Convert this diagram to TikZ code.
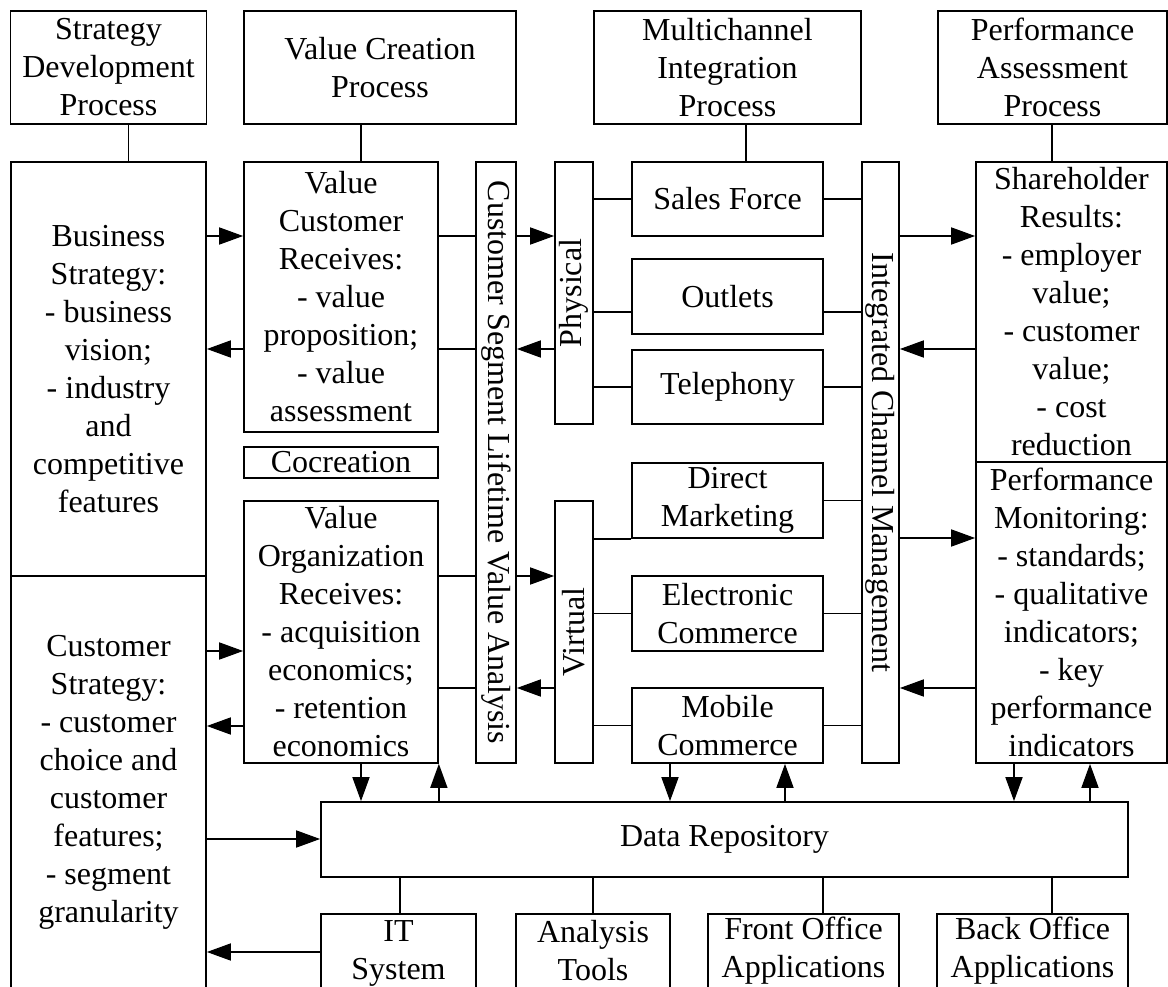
\documentclass[tikz,border=0pt]{standalone}
\usepackage{fontspec}
\setmainfont{Liberation Serif}
\usepackage{graphicx}
\usetikzlibrary{arrows.meta}
\begin{document}
\begin{tikzpicture}[x=1pt,y=-1pt,
  box/.style={draw, line width=1.7pt, inner sep=0pt, align=center, font=\fontsize{32}{38}\selectfont},
  ln/.style={line width=1.7pt},
  arr/.style={line width=1.7pt, -{Triangle[length=24pt,width=17pt]}}]
\useasboundingbox (0,0) rectangle (1168,987);
\clip (0,0) rectangle (1168,987);
% top row
\node[box, minimum width=196pt, minimum height=113pt] (sdp) at (108.5,67.5) {Strategy\\Development\\Process};
\node[box, minimum width=272pt, minimum height=113pt] (vcp) at (380,67.5) {Value Creation\\Process};
\node[box, minimum width=267pt, minimum height=113pt] (mip) at (727.5,67.5) {Multichannel\\Integration\\Process};
\node[box, minimum width=229pt, minimum height=113pt] (pap) at (1052.5,67.5) {Performance\\Assessment\\Process};
% left column
\node[box, minimum width=195pt, minimum height=414pt] (bs) at (108.5,369) {Business\\Strategy:\\- business\\vision;\\- industry\\and\\competitive\\features};
\node[box, minimum width=195pt, minimum height=412pt] (cs) at (108.5,782) {Customer\\Strategy:\\- customer\\choice and\\customer\\features;\\- segment\\granularity};
% value column
\node[box, minimum width=194pt, minimum height=270pt] (vcr) at (341,297) {Value\\Customer\\Receives:\\- value\\proposition;\\- value\\assessment};
\node[box, minimum width=194pt, minimum height=31pt] (cocr) at (341,462.5) {Cocreation};
\node[box, minimum width=194pt, minimum height=262pt] (vor) at (341,632) {Value\\Organization\\Receives:\\- acquisition\\economics;\\- retention\\economics};
% strips
\node[box, minimum width=40pt, minimum height=601pt] (cslv) at (496,462.5) {\rotatebox{-90}{Customer Segment Lifetime Value Analysis}};
\node[box, minimum width=38pt, minimum height=262pt] (phys) at (574,293) {\rotatebox{90}{Physical}};
\node[box, minimum width=38pt, minimum height=262pt] (virt) at (574,632) {\rotatebox{90}{Virtual}};
\node[box, minimum width=37pt, minimum height=601pt] (icm) at (880.5,462.5) {\rotatebox{-90}{Integrated Channel Management}};
% channels
\node[box, minimum width=191pt, minimum height=74pt] (sf) at (727.5,199) {Sales Force};
\node[box, minimum width=191pt, minimum height=75pt] (out) at (727.5,296.5) {Outlets};
\node[box, minimum width=191pt, minimum height=74pt] (tel) at (727.5,387) {Telephony};
\node[box, minimum width=191pt, minimum height=75pt] (dm) at (727.5,500.5) {Direct\\Marketing};
\node[box, minimum width=191pt, minimum height=75pt] (ec) at (727.5,613.5) {Electronic\\Commerce};
\node[box, minimum width=191pt, minimum height=75pt] (mc) at (727.5,725.5) {Mobile\\Commerce};
% performance column
\node[box, minimum width=191pt, minimum height=300pt] (sr) at (1071.5,312) {Shareholder\\Results:\\- employer\\value;\\- customer\\value;\\- cost\\reduction};
\node[box, minimum width=191pt, minimum height=301pt] (pm) at (1071.5,612.5) {Performance\\Monitoring:\\- standards;\\- qualitative\\indicators;\\- key\\performance\\indicators};
% bottom
\node[box, minimum width=807pt, minimum height=75pt] (dr) at (724.5,839.5) {Data Repository};
\node[box, minimum width=155pt, minimum height=74pt] (it) at (398.5,951) {\strut IT\\System};
\node[box, minimum width=154pt, minimum height=74pt] (at) at (593,951) {Analysis\\Tools};
\node[box, minimum width=191pt, minimum height=74pt] (fo) at (803.5,951) {Front Office\\Applications};
\node[box, minimum width=191pt, minimum height=74pt] (bo) at (1032.5,951) {Back Office\\Applications};
% process links
\draw[ln] (sdp.south -| 128.5,0) -- (bs.north -| 128.5,0);
\draw[ln] (vcp.south -| 361,0) -- (vcr.north -| 361,0);
\draw[ln] (mip.south -| 746,0) -- (sf.north -| 746,0);
\draw[ln] (pap.south -| 1052,0) -- (sr.north -| 1052,0);
% left <-> value
\draw[arr] (bs.east |- 0,236) -- (vcr.west |- 0,236);
\draw[arr] (vcr.west |- 0,349) -- (bs.east |- 0,349);
\draw[arr] (cs.east |- 0,651) -- (vor.west |- 0,651);
\draw[arr] (vor.west |- 0,726) -- (cs.east |- 0,726);
\draw[arr] (cs.east |- 0,839) -- (dr.west |- 0,839);
\draw[arr] (it.west |- 0,952) -- (cs.east |- 0,952);
% value <-> strip
\draw[ln] (vcr.east |- 0,236) -- (cslv.west |- 0,236);
\draw[ln] (vcr.east |- 0,349) -- (cslv.west |- 0,349);
\draw[ln] (vor.east |- 0,576) -- (cslv.west |- 0,576);
\draw[ln] (vor.east |- 0,688) -- (cslv.west |- 0,688);
\draw[arr] (cslv.east |- 0,236) -- (phys.west |- 0,236);
\draw[arr] (phys.west |- 0,349) -- (cslv.east |- 0,349);
\draw[arr] (cslv.east |- 0,576) -- (virt.west |- 0,576);
\draw[arr] (virt.west |- 0,688) -- (cslv.east |- 0,688);
% channels
\draw[ln] (phys.east |- 0,199) -- (sf.west |- 0,199);
\draw[ln] (sf.east |- 0,199) -- (icm.west |- 0,199);
\draw[ln] (phys.east |- 0,312) -- (out.west |- 0,312);
\draw[ln] (out.east |- 0,312) -- (icm.west |- 0,312);
\draw[ln] (phys.east |- tel.west) -- (tel.west);
\draw[ln] (tel.east) -- (icm.west |- tel.east);
\draw[ln] (virt.east |- dm.south west) -- (dm.south west);
\draw[ln] (dm.east) -- (icm.west |- dm.east);
\draw[ln] (virt.east |- ec.west) -- (ec.west);
\draw[ln] (ec.east) -- (icm.west |- ec.east);
\draw[ln] (virt.east |- mc.west) -- (mc.west);
\draw[ln] (mc.east) -- (icm.west |- mc.east);
% icm <-> performance
\draw[arr] (icm.east |- 0,236) -- (sr.west |- 0,236);
\draw[arr] (sr.west |- 0,349) -- (icm.east |- 0,349);
\draw[arr] (icm.east |- 0,538) -- (pm.west |- 0,538);
\draw[arr] (pm.west |- 0,688) -- (icm.east |- 0,688);
% data repository links
\draw[arr] (vor.south -| 361,0) -- (dr.north -| 361,0);
\draw[arr] (dr.north -| vor.south east) -- (vor.south east);
\draw[arr] (mc.south -| 670,0) -- (dr.north -| 670,0);
\draw[arr] (dr.north -| 785,0) -- (mc.south -| 785,0);
\draw[arr] (pm.south -| 1014,0) -- (dr.north -| 1014,0);
\draw[arr] (dr.north -| 1090,0) -- (pm.south -| 1090,0);
\draw[ln] (dr.south -| 400,0) -- (it.north -| 400,0);
\draw[ln] (dr.south -| 593,0) -- (at.north -| 593,0);
\draw[ln] (dr.south -| 823,0) -- (fo.north -| 823,0);
\draw[ln] (dr.south -| 1052,0) -- (bo.north -| 1052,0);
\end{tikzpicture}
\end{document}
